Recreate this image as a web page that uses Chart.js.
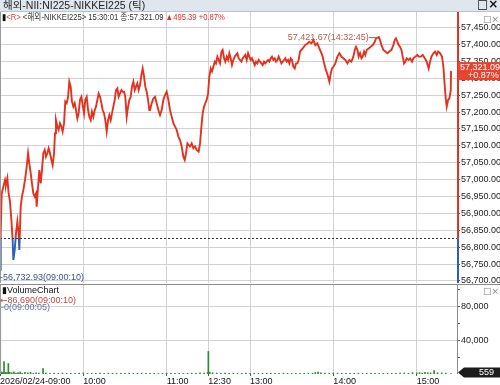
<!DOCTYPE html>
<html><head><meta charset="utf-8">
<script src="https://cdn.jsdelivr.net/npm/chart.js@4.4.0/dist/chart.umd.min.js"></script>
<style>
html,body{margin:0;padding:0;background:#fff;}
#wrap{position:relative;width:500px;height:385px;overflow:hidden;font-family:"Liberation Sans","Noto Sans CJK KR",sans-serif;}
canvas{position:absolute;left:0;}
.t{position:absolute;white-space:nowrap;font-size:9px;line-height:10px;}
</style></head><body>
<div id="wrap">
  <div style="position:absolute;left:0;top:0;width:500px;height:11px;background:#dfe6ee;border-bottom:1px solid #b9c3cd;"></div>
  <canvas id="pc" width="500" height="284" style="top:0"></canvas>
  <canvas id="vc" width="500" height="101" style="top:284px"></canvas>
  <div class="t" style="left:3px;top:0px;color:#222;font-size:10.5px;line-height:11px;">해외-NII:NI225-NIKKEI225 (틱)</div>
  <div class="t" style="left:477px;top:-1px;color:#111;font-size:12px;font-weight:bold;font-family:'DejaVu Sans',sans-serif;">□×</div>
  <div class="t" style="left:2px;top:12px;color:#333;font-size:9px;transform:scaleX(0.85);transform-origin:0 0;"><span style="color:#111">▮</span><span style="color:#c0504d">&lt;R&gt;</span> &lt;해외-NIKKEI225&gt; 15:30:01 종:57,321.09 <span style="color:#e0302a">▲495.39 +0.87%</span></div>
  <div class="t" style="left:483px;top:14px;color:#888;font-size:9px;font-family:'DejaVu Sans',sans-serif;">□×</div>
  <div class="t" style="left:2px;top:285px;color:#111;">▮VolumeChart</div>
  <div class="t" style="left:483px;top:286px;color:#888;font-size:9px;font-family:'DejaVu Sans',sans-serif;">□×</div>
  <div class="t" style="left:0px;top:295px;color:#c8463c;"><span style="font-family:'DejaVu Sans';font-size:9px">←</span>86,690(09:00:10)</div>
  <div class="t" style="left:1px;top:302px;color:#5a76a6;">-0(09:00:05)</div>
</div>
<script>
// ---- data ----
const priceTimes = [ // session minutes from 09:00 (lunch 11:30-12:30 removed)
0.17,0.5,1.2,2.4,3.6,4.3,5.3,6.2,7.2,8.2,
9.1,9.6,10.6,11.5,12.5,13.4,13.9,14.9,15.8,16.8,
18,19.2,20.2,21.1,22.1,23,24,25,25.9,26.4,
27.4,28.3,29.3,30.2,31.2,32.2,33.1,34.1,35,36,
37,37.9,38.9,39.6,40.3,41.3,42.2,43.2,44.2,45.1,
46.1,47,48,49,49.9,50.9,51.8,52.8,53.8,54.7,
55.7,56.6,57.6,58.6,59.5,60.5,61.4,62.4,63.4,64.3,
65.3,66.2,67.2,68.2,69.1,70.1,71,72,73,73.9,
74.9,75.8,76.8,77.8,78.7,79.7,80.6,81.6,82.6,83.5,
84.5,85.4,86.4,87.4,88.3,89.3,90.2,91.2,92.2,93.1,
94.1,95,96,97,97.9,98.9,99.8,100.8,101.8,102.7,
103.7,104.6,105.6,106.6,107.5,
108,109.2,110.4,111.6,112.8,114,115.2,116.4,117.6,118.8,
120,121.2,122.4,123.6,124.8,126,127.2,128.4,129.6,130.8,
132,133,133.9,134.9,135.8,136.8,138,139.2,140.4,141.6,
143,144,145,145.9,146.9,147.8,148.8,149.8,150.7,151.7,
152.6,153.6,154.6,155.5,156.5,157.4,158.4,159.4,160.3,161.3,
162.2,163.2,164.2,165.1,166.1,167,168,169,169.9,170.9,
171.8,172.8,173.8,174.7,175.7,176.6,177.6,178.6,179.5,180.5,
181.4,182.4,183.4,184.3,185.3,186.2,187.2,188.2,189.1,190.1,
191,192,193,193.9,194.9,195.8,196.8,197.8,198.7,199.7,
200.6,201.6,202.6,203.5,204.5,205.4,206.4,207.4,208.3,209.3,
210.2,211.2,212.2,213.1,214.1,215,
216,217.9,219.6,221.3,222.7,224.2,225.6,227,228.5,229.9,
231.4,232.3,233.3,234.7,236.2,237.1,238.1,239,240,241.4,
242.9,244.3,245.8,247.2,248.6,250.1,251.5,253,254.4,255.4,
256.3,257.3,258.2,259.2,260.2,261.1,262.1,263,264,265.4,
266.9,268.3,269.8,270.7,272.75,273.6,274.6,276,277.4,278.9,
280.3,281.8,283.2,284.2,285.1,286.1,287,288,289,289.9,
290.9,291.8,292.8,294.2,295.2,296.6,297.6,299,300.5,301.4,
302.9,304.3,305.8,307.2,308.6,309.6,310.6,312,313.2,314.4,
315.4,316.8,318.2,319.2,320.2,320.9,321.6,322.6,323.5,324.5,
324.7];
const priceValues = [
56732.93,56841,56959,56979,56999,56984,57004,56959,56935,56880,
56821,56762,56792,56841,56876,56841,56792,56920,56950,56969,
56999,57038,57078,57048,57019,56989,56959,56950,56959,56920,
56979,57028,56989,57028,57078,57088,57068,57078,57093,57078,
57058,57043,57078,57137,57176,57157,57147,57167,57157,57142,
57167,57231,57226,57245,57290,57275,57231,57216,57226,57206,
57181,57196,57236,57245,57221,57196,57236,57245,57206,57186,
57176,57201,57186,57206,57216,57236,57255,57245,57226,57206,
57196,57176,57142,57176,57191,57176,57196,57216,57236,57265,
57270,57245,57255,57265,57260,57260,57245,57186,57216,57236,
57245,57275,57290,57265,57275,57285,57265,57280,57310,57329,
57305,57275,57260,57236,57206,
57206,57226,57240,57245,57226,57206,57191,57206,57236,57250,
57260,57236,57206,57186,57167,57157,57147,57127,57117,57098,
57068,57058,57078,57107,57102,57098,57107,57093,57098,57088,
57083,57107,57157,57196,57216,57226,57236,57255,57305,57329,
57320,57334,57349,57344,57364,57354,57344,57379,57384,57359,
57349,57364,57354,57374,57359,57339,57354,57364,57369,57374,
57359,57354,57349,57359,57364,57369,57354,57374,57364,57354,
57359,57349,57339,57349,57344,57354,57349,57344,57339,57349,
57344,57349,57354,57349,57359,57364,57354,57359,57349,57354,
57364,57354,57344,57349,57354,57359,57349,57354,57344,57359,
57354,57334,57329,57344,57344,57354,
57379,57388,57398,57403,57408,57403,57413,57398,57403,57388,
57374,57364,57344,57324,57305,57290,57314,57329,57334,57344,
57364,57374,57364,57359,57354,57344,57354,57349,57364,57384,
57393,57384,57364,57374,57359,57364,57379,57369,57384,57388,
57393,57398,57408,57418,57421.67,57413,57398,57384,57379,57374,
57379,57384,57398,57413,57418,57408,57398,57393,57384,57364,
57344,57349,57359,57354,57359,57349,57359,57364,57369,57364,
57364,57369,57359,57349,57329,57349,57364,57374,57379,57369,
57379,57374,57364,57334,57275,57240,57216,57236,57240,57265,
57321.09];
const basePrice = 56825.70;
const closePrice = 57321.09;
const highTime = 272.75, highPrice = 57421.67;
const lowTime = 0.17, lowPrice = 56732.93;

const volTimes = [
0.08,0.17,1,2,2.9,4,5,6,7,8.5,
10,11.5,13,14.5,16,18,20,22,24,26,
28,31,33,36,39,42,45,48,51,54,
57,60,63,66,69,72,75,78,81,84,
87,90,93,96,99,102,105,108,111,114,
117,120,123,126,129,132,135,138,141,144,
147,149.5,150,151,153,156,159,162,165,168,
171,174,177,180,183,186,189,192,195,198,
201,204,207,210,213,216,219,222,225,227,
229,231,234,237,240,243,246,249,252,255,
258,261,264,267,270,273,276,279,282,285,
288,291,294,297,300,302,304,306,308,310,
312.5,315,318,321,324.7];
const volValues = [
0,86690,2400,1800,14800,2200,1600,12400,2000,1500,
2600,1200,1800,2200,1000,1900,1400,2100,900,1300,
1100,6400,1200,900,1000,800,1100,700,900,800,
1000,1200,700,900,800,1000,700,900,800,700,
900,800,1000,700,800,900,700,800,900,700,
800,1000,700,800,900,700,800,1000,900,1400,
1100,1800,26800,2200,1500,1200,900,1000,800,900,
700,800,1000,800,900,700,800,900,700,800,
700,900,800,700,800,900,700,900,1000,1800,
2200,1500,1100,900,1300,1000,800,900,700,800,
900,700,800,900,800,700,900,800,700,900,
1000,1200,900,1600,1300,1700,1200,2000,1500,1300,
4000,1500,1300,1100,559];
const lastVolume = 559;

const priceTickValues = [56700,56750,56800,56850,56900,56950,57000,57050,57100,57150,57200,57250,57300,57350,57400,57450];
const priceTickLabels = ['56,700.00','56,750.00','56,800.00','56,850.00','56,900.00','56,950.00','57,000.00','57,050.00','57,100.00','57,150.00','57,200.00','57,250.00','57,300.00','57,350.00','57,400.00','57,450.00'];
const timeTickValues = [0,60,120,150,180,240,300];
const timeTickLabels = ['2026/02/24-09:00','10:00','11:00','12:30','13:00','14:00','15:00'];
const volTickValues = [20000,40000,60000,80000,100000];
const volTickLabels = ['','40,000','','80,000',''];

// ---- styles ----
const RED = '#e3321f', BLUE = '#2f5fb4', GRID = '#d2d2d2';
const FONT = '"Liberation Sans",sans-serif';

function lineGrad(chart){
  const a = chart.chartArea; const ys = chart.scales.y;
  if(!a || !ys) return RED;
  const g = chart.ctx.createLinearGradient(0, a.top, 0, a.bottom);
  let f = (ys.getPixelForValue(basePrice) - a.top) / (a.bottom - a.top);
  f = Math.min(1, Math.max(0, f));
  g.addColorStop(0, RED); g.addColorStop(f, RED); g.addColorStop(f, BLUE); g.addColorStop(1, BLUE);
  return g;
}

const pricePlugin = {
  id: 'pp',
  afterDatasetsDraw(chart){
    const c = chart.ctx, a = chart.chartArea, ys = chart.scales.y, xs = chart.scales.x;
    const yb = Math.round(ys.getPixelForValue(basePrice)) + 0.5;
    c.save();
    c.strokeStyle = '#333'; c.lineWidth = 1; c.setLineDash([2,2]);
    c.beginPath(); c.moveTo(a.left, yb); c.lineTo(a.right, yb); c.stroke();
    c.setLineDash([]);
    c.lineWidth = 2;
    c.strokeStyle = RED; c.beginPath(); c.moveTo(a.right + 1, a.top); c.lineTo(a.right + 1, yb); c.stroke();
    c.strokeStyle = BLUE; c.beginPath(); c.moveTo(a.right + 1, yb); c.lineTo(a.right + 1, a.bottom); c.stroke();
    c.lineWidth = 1; c.strokeStyle = '#9a9a9a';
    c.beginPath(); c.moveTo(0.5, a.top); c.lineTo(0.5, a.bottom); c.stroke();
    const hx = xs.getPixelForValue(highTime), hy = ys.getPixelForValue(highPrice);
    c.font = '9px ' + FONT; c.fillStyle = '#b5594a'; c.textAlign = 'right'; c.textBaseline = 'middle';
    c.fillText('57,421.67(14:32:45)', hx - 10, hy);
    c.strokeStyle = '#b5594a'; c.beginPath(); c.moveTo(hx - 10, hy + 0.5); c.lineTo(hx - 1, hy + 0.5); c.stroke();
    const ly = ys.getPixelForValue(lowPrice);
    c.fillStyle = '#3a5486'; c.textAlign = 'left';
    c.fillText('-56,732.93(09:00:10)', 0, ly + 8);
    const cy = ys.getPixelForValue(closePrice);
    c.fillStyle = '#e8432f';
    c.fillRect(a.right + 1, cy - 9, 500 - a.right, 18);
    c.fillStyle = '#fff'; c.font = '9px ' + FONT; c.textAlign = 'left';
    c.fillText('57,321.09', a.right + 3, cy - 4);
    c.fillText('+0.87%', a.right + 11, cy + 4.5);
    c.restore();
  }
};

const volPlugin = {
  id: 'vp',
  afterDraw(chart){
    const c = chart.ctx, a = chart.chartArea, ys = chart.scales.y;
    c.save();
    c.strokeStyle = '#8c8c8c'; c.lineWidth = 1;
    c.beginPath(); c.moveTo(0, 0.5); c.lineTo(500, 0.5); c.stroke();
    c.beginPath(); c.moveTo(a.right + 0.5, 0); c.lineTo(a.right + 0.5, a.bottom); c.stroke();
    c.strokeStyle = '#9a9a9a';
    c.beginPath(); c.moveTo(0.5, a.top); c.lineTo(0.5, a.bottom); c.stroke();
    const yv = ys.getPixelForValue(lastVolume) - 1;
    c.fillStyle = '#1c1c1c';
    c.beginPath();
    c.moveTo(a.right + 1, yv); c.lineTo(a.right + 7, yv - 5); c.lineTo(500, yv - 5);
    c.lineTo(500, yv + 5); c.lineTo(a.right + 7, yv + 5); c.closePath(); c.fill();
    c.fillStyle = '#fff'; c.font = '9px ' + FONT; c.textAlign = 'right'; c.textBaseline = 'middle';
    c.fillText(String(lastVolume), 494, yv);
    c.restore();
  }
};

new Chart(document.getElementById('pc'), {
  type: 'line',
  data: { datasets: [{
    data: priceTimes.map((t, i) => ({ x: t, y: priceValues[i] })),
    borderColor: ctx => lineGrad(ctx.chart),
    borderWidth: 1.9, pointRadius: 0, tension: 0, fill: false
  }]},
  options: {
    responsive: false, animation: false, devicePixelRatio: 1,
    layout: { padding: { top: 12, bottom: 1, left: 0, right: 0 } },
    plugins: { legend: { display: false }, tooltip: { enabled: false } },
    scales: {
      x: {
        type: 'linear', min: 0, max: 329,
        afterBuildTicks: s => { s.ticks = timeTickValues.slice(1).map(v => ({ value: v })); },
        ticks: { display: false },
        grid: { color: GRID, borderDash: [2, 2], drawTicks: false },
        border: { display: false },
        afterFit: s => { s.height = 0; s.paddingLeft = 0; s.paddingRight = 0; }
      },
      y: {
        position: 'right', min: 56694, max: 57496,
        afterBuildTicks: s => { s.ticks = priceTickValues.map(v => ({ value: v })); },
        ticks: { autoSkip: false, padding: 1, color: '#222', font: { family: FONT, size: 9 },
                 callback: (v, i) => priceTickLabels[i] },
        grid: { color: GRID, borderDash: [2, 2], tickLength: 3, tickColor: '#555', tickBorderDash: [] },
        border: { display: false },
        afterFit: s => { s.width = 43; s.paddingTop = 0; s.paddingBottom = 0; }
      }
    }
  },
  plugins: [pricePlugin]
});

new Chart(document.getElementById('vc'), {
  type: 'bar',
  data: { datasets: [{
    data: volTimes.map((t, i) => ({ x: t, y: volValues[i] })),
    backgroundColor: '#2e8b2e', barThickness: 1, borderWidth: 0
  }]},
  options: {
    responsive: false, animation: false, devicePixelRatio: 1,
    layout: { padding: { top: 1, bottom: 0, left: 0, right: 0 } },
    plugins: { legend: { display: false }, tooltip: { enabled: false } },
    scales: {
      x: {
        type: 'linear', min: 0, max: 329, offset: false,
        afterBuildTicks: s => { s.ticks = timeTickValues.map(v => ({ value: v })); },
        ticks: { autoSkip: false, maxRotation: 0, align: 'start', padding: 0, color: '#111',
                 font: { family: FONT, size: 9 }, callback: (v, i) => timeTickLabels[i] },
        grid: { color: GRID, borderDash: [2, 2], offset: false, tickLength: 2, tickColor: '#555', tickBorderDash: [] },
        border: { display: false },
        afterFit: s => { s.height = 11; s.paddingLeft = 0; s.paddingRight = 0; }
      },
      y: {
        position: 'right', min: 0, max: 105800,
        afterBuildTicks: s => { s.ticks = volTickValues.map(v => ({ value: v })); },
        ticks: { autoSkip: false, padding: 1, color: '#222', font: { family: FONT, size: 9 },
                 callback: (v, i) => volTickLabels[i] },
        grid: { color: ctx => volTickLabels[ctx.index] ? GRID : 'rgba(0,0,0,0)', borderDash: [2, 2],
                tickLength: 3, tickColor: '#555', tickBorderDash: [] },
        border: { display: false },
        afterFit: s => { s.width = 43; s.paddingTop = 0; s.paddingBottom = 0; }
      }
    }
  },
  plugins: [volPlugin]
});
</script>
</body></html>
